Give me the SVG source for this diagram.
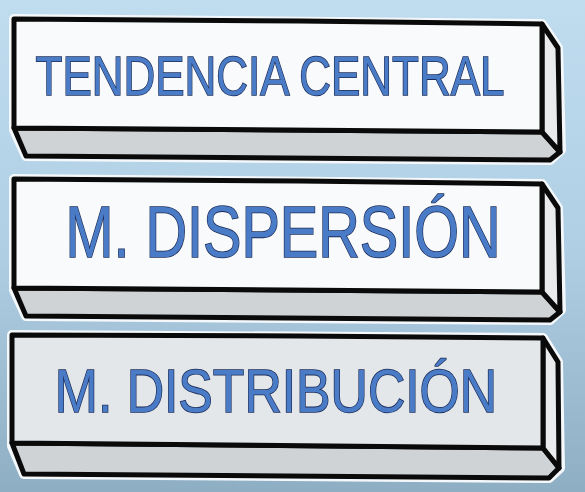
<svg xmlns="http://www.w3.org/2000/svg" width="585" height="492" viewBox="0 0 585 492">
<defs>
<linearGradient id="bg" x1="0" y1="0" x2="0" y2="1">
<stop offset="0" stop-color="#c0dcef"/>
<stop offset="0.5" stop-color="#b0cfe4"/>
<stop offset="1" stop-color="#8eaec4"/>
</linearGradient>
<style>
.halo{fill:none;stroke:#f4f8fb;stroke-width:10;stroke-linejoin:round}
.edge{stroke:#0a0a0a;stroke-width:5;stroke-linejoin:round}
.front{fill:#f8fafb}
.front3{fill:#e3e7ea}
.bottom{fill:#cfd3d6}
.side{fill:#e9ebec}
.lbl{font-family:"Liberation Sans","DejaVu Sans",sans-serif;fill:#4a7bc6;stroke:#1b2a55;stroke-width:1.6;paint-order:stroke;text-anchor:middle}
</style>
</defs>
<rect width="585" height="492" fill="url(#bg)"/>
<g id="box1">
<path class="halo" d="M14,19 L542,24 L558,48 L561,150 L550,160 L26,156 L14,130 Z"/>
<path class="bottom edge" d="M14,128 L542,132 L560,152 L550,160 L26,156 Z"/>
<path class="side edge" d="M542,24 L558,48 L560,152 L542,132 Z"/>
<path class="front edge" d="M14,19 L300,21 L542,24 L542,132 L14,128 Z"/>
<text class="lbl" transform="translate(270,95) scale(0.785,1)" font-size="56">TENDENCIA CENTRAL</text>
</g>
<g id="box2">
<path class="halo" d="M14,179 L542,184 L558,208 L561,310 L550,320 L26,316 L14,290 Z"/>
<path class="bottom edge" d="M14,288 L542,292 L560,312 L550,320 L26,316 Z"/>
<path class="side edge" d="M542,184 L558,208 L560,312 L542,292 Z"/>
<path class="front edge" d="M14,179 L300,181 L542,184 L542,292 L14,288 Z"/>
<text class="lbl" transform="translate(283,257) scale(0.80,1)" font-size="72">M. DISPERSIÓN</text>
</g>
<g id="box3">
<path class="halo" d="M12,335 L543,338 L558,362 L560,468 L549,478 L24,474 L12,446 Z"/>
<path class="bottom edge" d="M12,443 L543,448 L559,468 L549,478 L24,474 Z"/>
<path class="side edge" d="M543,338 L558,362 L559,468 L543,448 Z"/>
<path class="front3 edge" d="M12,335 L300,336 L543,338 L543,448 L12,443 Z"/>
<text class="lbl" transform="translate(276,412) scale(0.834,1)" font-size="62">M. DISTRIBUCIÓN</text>
</g>
</svg>
